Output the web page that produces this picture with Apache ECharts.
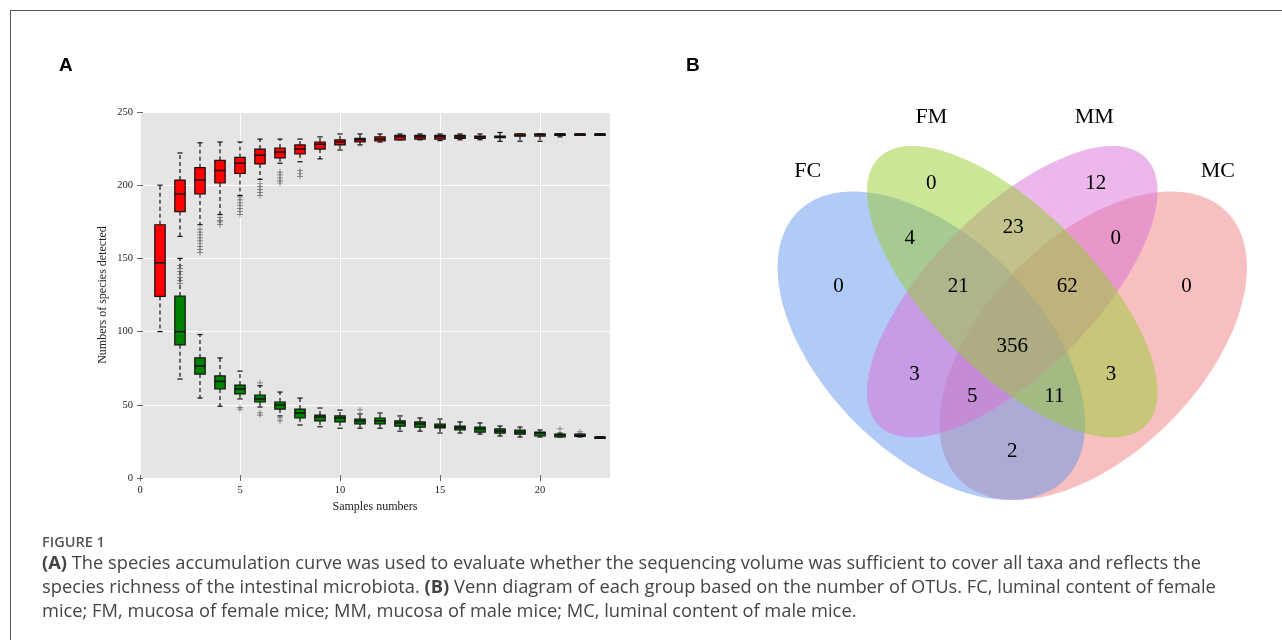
<!DOCTYPE html>
<html>
<head>
<meta charset="utf-8">
<style>
  html, body { margin: 0; padding: 0; background: #fff; }
  #chart { width: 1282px; height: 640px; }
</style>
<script src="https://cdn.jsdelivr.net/npm/echarts@6/dist/echarts.min.js"></script>
</head>
<body>
<div id="chart"></div>
<script>
// panel A: species accumulation boxplots, [sample, min, q1, median, q3, max]
const sampleNumbers = [1, 2, 3, 4, 5, 6, 7, 8, 9, 10, 11, 12, 13, 14, 15, 16, 17, 18, 19, 20, 21, 22, 23];
const xTicks = [0, 5, 10, 15, 20];
const yTicks = [0, 50, 100, 150, 200, 250];

const redBoxes = [
  [1, 100, 124, 147, 173, 200],
  [2, 165, 182, 194, 203.5, 222],
  [3, 173, 194, 203.5, 212, 229],
  [4, 180, 201.5, 210, 217, 229.5],
  [5, 193, 208, 215, 219, 229.5],
  [6, 204, 214.5, 220.5, 224.7, 231.5],
  [7, 215, 218.6, 222.7, 225.4, 231.5],
  [8, 216, 221.3, 224.7, 227.5, 231.5],
  [9, 218, 224.7, 228, 229.5, 233],
  [10, 224, 227.5, 229.5, 231, 235],
  [11, 227.5, 229.5, 231, 232, 235],
  [12, 229.5, 230.2, 231.5, 233, 235],
  [13, 231, 231, 233, 234, 235],
  [14, 231, 231.5, 233, 234, 235],
  [15, 230.5, 231.5, 233, 234, 235],
  [16, 231, 232, 233, 234, 235],
  [17, 231, 232, 233, 233.5, 235],
  [18, 230, 232.5, 233, 233.5, 236],
  [19, 230, 233.5, 234, 235, 235],
  [20, 230, 233.5, 234.5, 235, 235],
  [21, 233, 234.5, 235, 235, 235],
  [22, 234, 234.5, 235, 235, 235],
  [23, 235, 235, 235, 235, 235]
];

const greenBoxes = [
  [2, 67.6, 91, 100, 124.3, 150],
  [3, 54.6, 71, 76.5, 82, 98],
  [4, 49, 60.8, 66, 69.7, 82],
  [5, 54, 57.4, 60.8, 63.5, 73],
  [6, 48.5, 51.9, 54, 56.7, 63],
  [7, 42.4, 47.1, 49.9, 51.9, 58.7],
  [8, 36.2, 41, 44.4, 47.1, 54.6],
  [9, 35, 39, 41.7, 43, 47.8],
  [10, 34, 38.3, 41, 42.4, 46.4],
  [11, 34, 37, 39, 40.3, 43.7],
  [12, 34, 37, 39, 41, 44.4],
  [13, 32, 35.5, 37.6, 39, 42.4],
  [14, 32, 34.8, 36.9, 38.3, 41],
  [15, 30.7, 34.2, 35.5, 36.9, 40.3],
  [16, 30.7, 32.8, 34.2, 35.5, 38.3],
  [17, 30, 31.4, 33.5, 34.8, 37.6],
  [18, 28.7, 30.7, 32.1, 33.5, 35.5],
  [19, 28, 30, 31.4, 32.8, 34.8],
  [20, 28, 28.7, 30.7, 31.4, 32.8],
  [21, 28, 28, 29.4, 30, 30.7],
  [22, 28, 28.5, 29, 30, 30],
  [23, 28, 28, 28, 28, 28]
];

const redOutliers = [
  [2, 145], [2, 143], [2, 141], [2, 139], [2, 137], [2, 135], [2, 133],
  [3, 170], [3, 168], [3, 166], [3, 164], [3, 162], [3, 160], [3, 158], [3, 156], [3, 154],
  [4, 178], [4, 176], [4, 175], [4, 173],
  [5, 192], [5, 190], [5, 188], [5, 186], [5, 184], [5, 182], [5, 180],
  [6, 201], [6, 199], [6, 197], [6, 195], [6, 193],
  [7, 209], [7, 207], [7, 205], [7, 203], [7, 201.5],
  [8, 210], [8, 208], [8, 206]
];

const greenOutliers = [
  [5, 48], [5, 47],
  [6, 65], [6, 44.5], [6, 43],
  [7, 41], [7, 39],
  [11, 46.5],
  [21, 33.5],
  [22, 31.5]
];

// panel B: Venn diagram of OTUs
const setNames = ['FC', 'FM', 'MM', 'MC'];
const regionNames = ['FC', 'FM', 'MM', 'MC', 'FC&FM', 'FM&MM', 'MM&MC', 'FC&FM&MM', 'FM&MM&MC',
  'FC&FM&MM&MC', 'FC&MM', 'FC&MM&MC', 'FC&FM&MC', 'FM&MC', 'FC&MC'];
const regionCounts = [0, 0, 12, 0, 4, 23, 0, 21, 62, 356, 3, 5, 11, 3, 2];

// layout of the Venn (unit square), kept apart from the counts
const ellipseShapes = { // cx, cy, semi-major, semi-minor, angle of major axis
  FC: [0.35, 0.47, 0.35, 0.2, 135],
  FM: [0.5, 0.57, 0.35, 0.15, 135],
  MM: [0.5, 0.57, 0.35, 0.15, 45],
  MC: [0.65, 0.47, 0.35, 0.2, 45]
};
const drawOrder = ['MC', 'FC', 'MM', 'FM'];
const setColors = { FC: '#6495ed', FM: '#9acd32', MM: '#da70d6', MC: '#f08080' };
const setLabelPos = [[0.121, 0.793], [0.35, 0.893], [0.652, 0.893], [0.881, 0.793]];
const regionLabelPos = [
  [0.178, 0.579], [0.35, 0.769], [0.655, 0.769], [0.823, 0.579],
  [0.31, 0.669], [0.502, 0.689], [0.692, 0.669],
  [0.4, 0.579], [0.602, 0.579], [0.5, 0.468],
  [0.319, 0.416], [0.426, 0.377], [0.578, 0.377], [0.683, 0.416],
  [0.5, 0.275]
];

const serif = "'Liberation Serif', 'DejaVu Serif', serif";
const sans = "'Open Sans', 'Noto Sans', sans-serif";

function boxItem(fill) {
  return function (params, api) {
    const x = api.value(0);
    const lo = api.value(1), q1 = api.value(2), med = api.value(3), q3 = api.value(4), hi = api.value(5);
    const hw = 0.26, cw = 0.13;
    const p = (xx, yy) => api.coord([xx, yy]);
    const edge = { stroke: '#111', lineWidth: 1.2 };
    const dashed = { stroke: '#111', lineWidth: 1.2, lineDash: [4, 3] };
    const a = p(x - hw, q3), b = p(x + hw, q1);
    return {
      type: 'group',
      children: [
        { type: 'line', shape: { x1: p(x, q3)[0], y1: p(x, q3)[1], x2: p(x, hi)[0], y2: p(x, hi)[1] }, style: dashed },
        { type: 'line', shape: { x1: p(x, q1)[0], y1: p(x, q1)[1], x2: p(x, lo)[0], y2: p(x, lo)[1] }, style: dashed },
        { type: 'line', shape: { x1: p(x - cw, hi)[0], y1: p(x, hi)[1], x2: p(x + cw, hi)[0], y2: p(x, hi)[1] }, style: edge },
        { type: 'line', shape: { x1: p(x - cw, lo)[0], y1: p(x, lo)[1], x2: p(x + cw, lo)[0], y2: p(x, lo)[1] }, style: edge },
        { type: 'rect', shape: { x: a[0], y: a[1], width: b[0] - a[0], height: Math.max(b[1] - a[1], 1.5) },
          style: { fill: fill, stroke: '#111', lineWidth: 1.2 } },
        { type: 'line', shape: { x1: a[0], y1: p(x, med)[1], x2: b[0], y2: p(x, med)[1] }, style: { stroke: '#111', lineWidth: 1.5 } }
      ]
    };
  };
}

function ellipseItem(params, api) {
  const cx = api.value(0), cy = api.value(1), ra = api.value(2), rb = api.value(3);
  const t = api.value(4) * Math.PI / 180;
  const pts = [];
  for (let i = 0; i < 120; i++) {
    const s = i / 120 * Math.PI * 2;
    const ex = ra * Math.cos(s), ey = rb * Math.sin(s);
    pts.push(api.coord([cx + ex * Math.cos(t) - ey * Math.sin(t), cy + ex * Math.sin(t) + ey * Math.cos(t)]));
  }
  return { type: 'polygon', shape: { points: pts }, style: { fill: api.visual('color'), opacity: 0.5 } };
}

const tickStyle = { show: true, length: 3, lineStyle: { color: '#666', width: 1 } };
const plus = 'path://M-0.6,-5h1.2v10h-1.2zM-5,-0.6h10v1.2h-10z';

const chart = echarts.init(document.getElementById('chart'));
chart.setOption({
  animation: false,
  grid: [
    { left: 140, top: 112, width: 470, height: 366, show: true, backgroundColor: '#e5e5e5', borderWidth: 0 },
    { left: 742.5, top: 59, width: 541, height: 541, show: false }
  ],
  xAxis: [
    { type: 'value', gridIndex: 0, min: 0, max: 23.5, interval: 5,
      name: 'Samples numbers', nameLocation: 'middle', nameGap: 23,
      nameTextStyle: { fontFamily: serif, fontSize: 12, color: '#222' },
      axisLine: { show: false },
      axisTick: Object.assign({ customValues: xTicks }, tickStyle),
      axisLabel: { customValues: xTicks, fontFamily: serif, fontSize: 10.5, color: '#222', margin: 7 },
      splitLine: { lineStyle: { color: '#fff', width: 1 } } },
    { type: 'value', gridIndex: 0, position: 'top', min: 0, max: 23.5, interval: 5,
      axisLine: { show: false }, axisLabel: { show: false }, splitLine: { show: false },
      axisTick: Object.assign({ customValues: xTicks }, tickStyle) },
    { type: 'value', gridIndex: 1, min: 0, max: 1, show: false }
  ],
  yAxis: [
    { type: 'value', gridIndex: 0, min: 0, max: 250, interval: 50,
      name: 'Numbers of species detected', nameLocation: 'middle', nameGap: 31,
      nameTextStyle: { fontFamily: serif, fontSize: 12, color: '#222' },
      axisLine: { show: false }, axisTick: tickStyle,
      axisLabel: { customValues: yTicks, fontFamily: serif, fontSize: 10.5, color: '#222', margin: 7 },
      splitLine: { lineStyle: { color: '#fff', width: 1 } } },
    { type: 'value', gridIndex: 0, position: 'right', min: 0, max: 250, interval: 50,
      axisLine: { show: false }, axisLabel: { show: false }, splitLine: { show: false }, axisTick: tickStyle },
    { type: 'value', gridIndex: 1, min: 0, max: 1, show: false }
  ],
  series: [
    { type: 'custom', name: 'red', xAxisIndex: 0, yAxisIndex: 0, data: redBoxes, renderItem: boxItem('#ff0000'),
      encode: { x: 0, y: [1, 2, 3, 4, 5] }, silent: true },
    { type: 'custom', name: 'green', xAxisIndex: 0, yAxisIndex: 0, data: greenBoxes, renderItem: boxItem('#008000'),
      encode: { x: 0, y: [1, 2, 3, 4, 5] }, silent: true },
    { type: 'scatter', xAxisIndex: 0, yAxisIndex: 0, data: redOutliers.concat(greenOutliers),
      symbol: plus, symbolSize: 6, itemStyle: { color: '#555', opacity: 0.85 }, silent: true },
    { type: 'custom', xAxisIndex: 2, yAxisIndex: 2, renderItem: ellipseItem, silent: true,
      data: drawOrder.map(k => ({ value: ellipseShapes[k], itemStyle: { color: setColors[k] } })) },
    { type: 'scatter', xAxisIndex: 2, yAxisIndex: 2, symbolSize: 0, silent: true, z: 5,
      itemStyle: { opacity: 1 },
      data: setNames.map((n, i) => ({ name: n, value: setLabelPos[i] })),
      label: { show: true, position: 'inside', formatter: '{b}', fontFamily: serif, fontSize: 22, color: '#000', opacity: 1 } },
    { type: 'scatter', xAxisIndex: 2, yAxisIndex: 2, symbolSize: 0, silent: true, z: 5,
      itemStyle: { opacity: 1 },
      data: regionCounts.map((c, i) => ({ name: regionNames[i], value: regionLabelPos[i].concat([c]) })),
      label: { show: true, position: 'inside', formatter: p => String(p.value[2]), fontFamily: serif, fontSize: 21, color: '#000', opacity: 1 } }
  ],
  graphic: [
    { type: 'line', shape: { x1: 10, y1: 10.5, x2: 1282, y2: 10.5 }, style: { stroke: '#555', lineWidth: 1 } },
    { type: 'line', shape: { x1: 10.5, y1: 10, x2: 10.5, y2: 640 }, style: { stroke: '#555', lineWidth: 1 } },
    { type: 'text', left: 59, top: 56, style: { text: 'A', font: "bold 19px 'Liberation Sans', Arial, sans-serif", fill: '#000' } },
    { type: 'text', left: 686, top: 56, style: { text: 'B', font: "bold 19px 'Liberation Sans', Arial, sans-serif", fill: '#000' } },
    { type: 'text', left: 42, top: 535, style: { text: 'FIGURE 1', font: "600 14.5px " + sans, fill: '#555' } },
    { type: 'text', left: 42, top: 552, style: {
      text: '{b|(A)} The species accumulation curve was used to evaluate whether the sequencing volume was sufficient to cover all taxa and reflects the\n' +
            'species richness of the intestinal microbiota. {b|(B)} Venn diagram of each group based on the number of OTUs. FC, luminal content of female\n' +
            'mice; FM, mucosa of female mice; MM, mucosa of male mice; MC, luminal content of male mice.',
      font: "18.3px " + sans, fill: '#444', lineHeight: 24,
      rich: { b: { fontWeight: 'bold', fontFamily: sans, fontSize: 18.3, fill: '#444', lineHeight: 24 } }
    } }
  ]
});
</script>
</body>
</html>
